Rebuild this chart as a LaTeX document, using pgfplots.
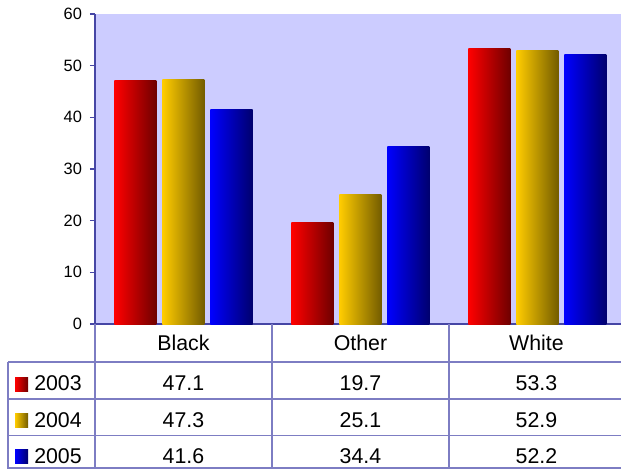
\documentclass[border=0pt]{standalone}
\usepackage{pgfplots}
\pgfplotsset{compat=1.18}
\usepackage{fontspec}
\setmainfont{Liberation Sans}
\definecolor{bg}{RGB}{204,204,255}
\definecolor{axc}{RGB}{70,70,165}
\definecolor{tbl}{RGB}{125,125,195}
\definecolor{redL}{RGB}{255,0,0}
\definecolor{redR}{RGB}{110,0,0}
\definecolor{goldL}{RGB}{255,204,0}
\definecolor{goldR}{RGB}{115,92,0}
\definecolor{blueL}{RGB}{0,0,255}
\definecolor{blueR}{RGB}{0,0,110}
\def\X#1{{#1*0.75pt}}
\def\Y#1{{(469-#1)*0.75pt}}
\newcommand{\tfont}{\fontsize{16}{18}\selectfont}
\pgfplotsset{
  y2003/.style={ybar, bar width=31.5pt, bar shift=-36pt, draw=none, left color=redL, right color=redR},
  y2004/.style={ybar, bar width=31.5pt, bar shift=0pt, draw=none, left color=goldL, right color=goldR},
  y2005/.style={ybar, bar width=31.5pt, bar shift=36pt, draw=none, left color=blueL, right color=blueR},
}
\begin{document}
\begin{tikzpicture}
\path[use as bounding box] (0,0) rectangle (465.75pt,351.75pt);
\begin{axis}[
  at={(71.25pt,108.75pt)}, anchor=south west,
  scale only axis, width=394.5pt, height=232.5pt,
  xmin=-0.5, xmax=2.4718, ymin=0, ymax=60,
  ytick={0,10,...,60}, xtick=\empty,
  axis lines=left,
  axis line style={draw=axc, line width=0.9pt, -},
  axis background/.style={fill=bg},
  tick align=outside, major tick length=3.75pt,
  ytick style={draw=axc, line width=0.9pt},
  tick label style={font=\fontsize{12.3}{14}\selectfont},
  yticklabel style={xshift=-2.5pt},
  /pgf/number format/assume math mode=true,
  clip=false,
]
% 2003
\addplot[y2003] coordinates {(0,47.1)};
\addplot[y2003] coordinates {(1,19.7)};
\addplot[y2003] coordinates {(2,53.3)};
% 2004
\addplot[y2004] coordinates {(0,47.3)};
\addplot[y2004] coordinates {(1,25.1)};
\addplot[y2004] coordinates {(2,52.9)};
% 2005
\addplot[y2005] coordinates {(0,41.6)};
\addplot[y2005] coordinates {(1,34.4)};
\addplot[y2005] coordinates {(2,52.2)};
\end{axis}
% data table
\begin{scope}[tbl, line width=0.9pt]
\draw (\X{95},\Y{324}) -- (\X{95},\Y{469});
\draw (\X{272},\Y{324}) -- (\X{272},\Y{469});
\draw (\X{449},\Y{324}) -- (\X{449},\Y{469});
\draw (\X{8},\Y{362}) -- (\X{8},\Y{469});
\draw (\X{8},\Y{362}) -- (\X{621},\Y{362});
\draw (\X{8},\Y{399}) -- (\X{621},\Y{399});
\draw (\X{8},\Y{435.5}) -- (\X{621},\Y{435.5});
\draw (\X{8},\Y{468}) -- (\X{621},\Y{468});
\end{scope}
\node[anchor=base, font=\tfont, inner sep=0pt] at (\X{183.5},\Y{350.5}) {Black};
\node[anchor=base, font=\tfont, inner sep=0pt] at (\X{360.5},\Y{350.5}) {Other};
\node[anchor=base, font=\tfont, inner sep=0pt] at (\X{536.5},\Y{350.5}) {White};
\shade[left color=redL, right color=redR] (\X{15},\Y{377}) rectangle (\X{28},\Y{391});
\shade[left color=goldL, right color=goldR] (\X{15},\Y{413}) rectangle (\X{28},\Y{427});
\shade[left color=blueL, right color=blueR] (\X{15},\Y{449.5}) rectangle (\X{28},\Y{463.5});
\node[anchor=base west, font=\tfont, inner sep=0pt] at (\X{34},\Y{390.5}) {2003};
\node[anchor=base west, font=\tfont, inner sep=0pt] at (\X{34},\Y{427}) {2004};
\node[anchor=base west, font=\tfont, inner sep=0pt] at (\X{34},\Y{463.5}) {2005};
\node[anchor=base, font=\tfont, inner sep=0pt] at (\X{183.5},\Y{390.5}) {47.1};
\node[anchor=base, font=\tfont, inner sep=0pt] at (\X{360.5},\Y{390.5}) {19.7};
\node[anchor=base, font=\tfont, inner sep=0pt] at (\X{536.5},\Y{390.5}) {53.3};
\node[anchor=base, font=\tfont, inner sep=0pt] at (\X{183.5},\Y{427}) {47.3};
\node[anchor=base, font=\tfont, inner sep=0pt] at (\X{360.5},\Y{427}) {25.1};
\node[anchor=base, font=\tfont, inner sep=0pt] at (\X{536.5},\Y{427}) {52.9};
\node[anchor=base, font=\tfont, inner sep=0pt] at (\X{183.5},\Y{463.5}) {41.6};
\node[anchor=base, font=\tfont, inner sep=0pt] at (\X{360.5},\Y{463.5}) {34.4};
\node[anchor=base, font=\tfont, inner sep=0pt] at (\X{536.5},\Y{463.5}) {52.2};
\end{tikzpicture}
\end{document}
